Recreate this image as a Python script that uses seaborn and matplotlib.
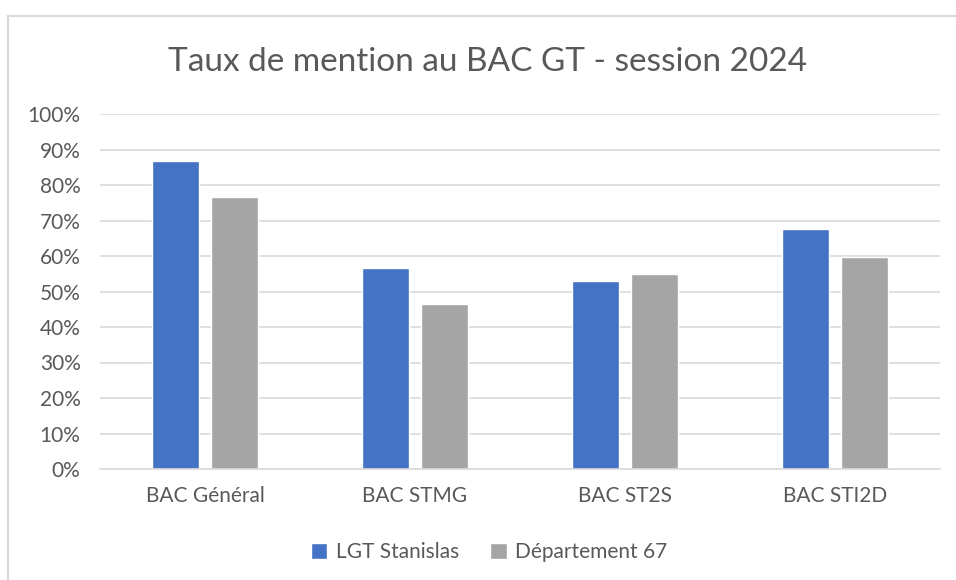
import pandas as pd
import seaborn as sns
import matplotlib.pyplot as plt
from matplotlib.lines import Line2D
from matplotlib.ticker import PercentFormatter

categories = ['BAC Général', 'BAC STMG', 'BAC ST2S', 'BAC STI2D']
series_names = ['LGT Stanislas', 'Département 67']
stanislas = [0.869, 0.565, 0.529, 0.675]
dep67 = [0.766, 0.464, 0.550, 0.597]
colors = ['#4472C4', '#A5A5A5']
text_color = '#595959'
grid_color = '#D9D9D9'

df = pd.DataFrame({
    'categorie': categories * 2,
    'serie': [series_names[0]] * 4 + [series_names[1]] * 4,
    'taux': stanislas + dep67,
})

sns.set_theme(style='white')
plt.rcParams['font.family'] = ['Lato', 'DejaVu Sans']

fig = plt.figure(figsize=(9.56, 5.8), dpi=100)
ax = fig.add_axes([100 / 956, 1 - 469 / 580, 840 / 956, 355 / 580])

sns.barplot(data=df, x='categorie', y='taux', hue='serie', palette=colors,
            width=0.56, gap=0.2, saturation=1, ax=ax, legend=True)

ax.set_ylim(0, 1)
ax.set_yticks([i / 10 for i in range(11)])
ax.yaxis.set_major_formatter(PercentFormatter(1.0, decimals=0))
ax.set_xlim(-0.5, 3.5)
ax.grid(axis='y', color=grid_color, linewidth=1.2)
ax.set_axisbelow(True)
for side in ['left', 'right', 'top']:
    ax.spines[side].set_visible(False)
ax.spines['bottom'].set_color(grid_color)
ax.spines['bottom'].set_linewidth(1.2)
ax.tick_params(axis='both', length=0, labelsize=15, labelcolor=text_color)
ax.tick_params(axis='x', pad=12)
ax.tick_params(axis='y', pad=14)
ax.set_xlabel('')
ax.set_ylabel('')

fig.text(488 / 956, 1 - 62 / 580, 'Taux de mention au BAC GT - session 2024',
         ha='center', va='center', fontsize=24, color=text_color)

handles, labels = ax.get_legend_handles_labels()
ax.get_legend().remove()
fig.legend(handles, labels, loc='center', bbox_to_anchor=(489 / 956, 1 - 552 / 580),
           ncol=2, frameon=False, fontsize=15, labelcolor=text_color,
           handlelength=0.8, handleheight=0.8, handletextpad=0.4, columnspacing=1.5)

# chart area border: only top and left edges are visible in the crop
fig.add_artist(Line2D([8 / 956, 1], [1 - 15.5 / 580] * 2, transform=fig.transFigure,
                      color=grid_color, linewidth=1.5))
fig.add_artist(Line2D([8 / 956] * 2, [0, 1 - 15.5 / 580], transform=fig.transFigure,
                      color=grid_color, linewidth=1.5))

fig.savefig('out.png', dpi=100)
